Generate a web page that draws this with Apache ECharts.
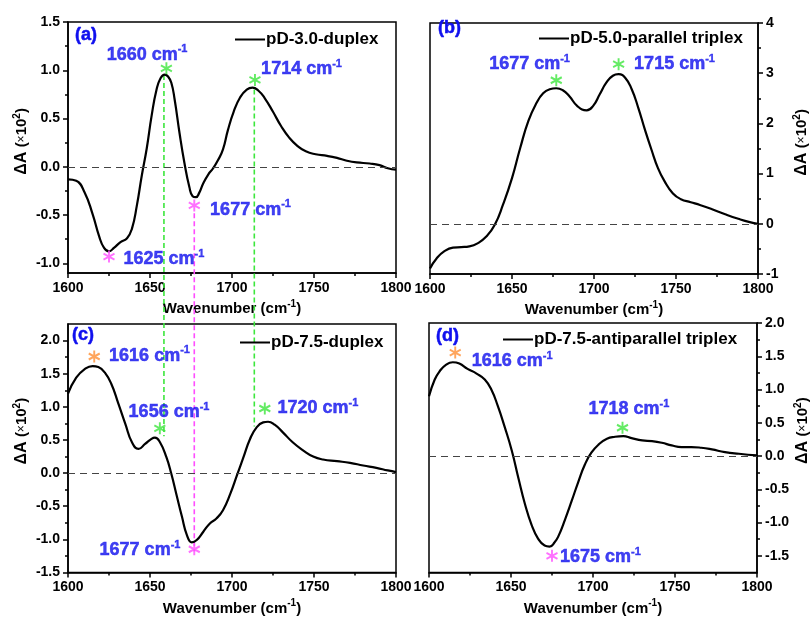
<!DOCTYPE html>
<html>
<head>
<meta charset="utf-8">
<script src="https://cdn.jsdelivr.net/npm/echarts@6/dist/echarts.min.js"></script>
<style>
  html, body { margin: 0; padding: 0; background: #fff; }
  #chart { width: 812px; height: 617px; }
</style>
</head>
<body>
<div id="chart"></div>
<script>
// ---------- spectra: [wavenumber (cm-1), ΔA (x10^2)] ----------
const spectrumA = [
  [1600,-0.13],[1605,-0.145],[1610,-0.26],[1615,-0.49],[1619,-0.72],[1622,-0.84],[1625,-0.875],
  [1628,-0.84],[1632,-0.78],[1636,-0.74],[1639,-0.64],[1642,-0.40],[1645,-0.09],
  [1648,0.19],[1651,0.53],[1654,0.80],[1656.5,0.92],[1659,0.955],[1661,0.935],[1663,0.87],[1665,0.70],
  [1668,0.35],[1671,0.04],[1674,-0.21],[1676,-0.305],[1678,-0.315],[1680,-0.27],[1682.5,-0.17],
  [1685.5,-0.08],[1688.5,-0.015],[1691.5,0.07],[1694.5,0.18],[1697.5,0.38],[1701,0.57],
  [1705,0.72],[1709,0.80],[1712.5,0.82],[1716,0.79],[1720,0.71],[1725,0.57],[1730,0.42],
  [1735,0.30],[1740,0.215],[1745,0.16],[1751,0.13],[1758,0.113],[1764,0.092],[1770,0.063],
  [1776,0.045],[1784,0.034],[1790,0.017],[1795,-0.015],[1800,-0.03]
];
const spectrumB = [
  [1600,-0.89],[1604,-0.69],[1609,-0.54],[1614,-0.475],[1619,-0.465],[1624,-0.45],
  [1629,-0.39],[1634.5,-0.25],[1639.5,-0.02],[1644.5,0.38],[1650,0.91],[1655,1.51],
  [1660,2.05],[1665,2.41],[1669,2.60],[1673,2.68],[1677,2.70],[1681,2.66],[1685,2.54],
  [1690,2.34],[1695.5,2.26],[1699.5,2.35],[1703.5,2.58],[1707.5,2.81],[1711.5,2.95],
  [1715,2.98],[1719,2.91],[1723,2.68],[1727,2.31],[1731,1.88],[1735,1.48],[1739,1.11],
  [1743,0.85],[1748,0.61],[1753,0.49],[1759,0.43],[1765,0.37],[1772,0.29],[1780,0.19],
  [1788,0.10],[1795,0.033],[1800,0.0]
];
const spectrumC = [
  [1600,1.20],[1605,1.44],[1610,1.565],[1615,1.615],[1618.5,1.60],[1622.5,1.515],
  [1626.5,1.34],[1630.5,1.065],[1635,0.74],[1639,0.465],[1643,0.365],[1647,0.44],
  [1650.5,0.51],[1653,0.535],[1656,0.47],[1660,0.24],[1663,-0.01],[1666,-0.31],
  [1669.5,-0.66],[1672.5,-0.935],[1675.5,-1.045],[1678.5,-1.01],[1682.5,-0.885],
  [1686.5,-0.76],[1690.5,-0.685],[1694.5,-0.56],[1699,-0.31],[1703,-0.035],[1707,0.24],
  [1711,0.515],[1715,0.69],[1719,0.765],[1722,0.775],[1726,0.73],[1731,0.615],
  [1737,0.465],[1743.5,0.34],[1749.5,0.25],[1755.5,0.205],[1764,0.18],[1772,0.155],
  [1780,0.115],[1788,0.08],[1795,0.04],[1800,0.015]
];
const spectrumD = [
  [1600,0.90],[1603.5,1.15],[1606.5,1.275],[1610.5,1.375],[1614.5,1.41],[1618.5,1.39],
  [1623.5,1.31],[1629,1.24],[1634,1.15],[1638,1.0],[1642,0.75],[1646,0.45],[1650.5,0.08],
  [1654.5,-0.33],[1658.5,-0.72],[1662.5,-1.03],[1666.5,-1.24],[1670.5,-1.345],
  [1673.5,-1.36],[1676.5,-1.30],[1679,-1.20],[1683,-0.95],[1687,-0.675],[1691,-0.39],
  [1695,-0.13],[1699,0.05],[1703.5,0.175],[1708.5,0.26],[1713.5,0.29],[1718.5,0.30],
  [1723.5,0.27],[1730,0.235],[1736,0.225],[1742,0.20],[1748,0.16],[1754,0.135],
  [1760,0.135],[1766,0.125],[1772.5,0.10],[1780.5,0.06],[1789,0.035],[1800,0.01]
];

const seriesNames = ['pD-3.0-duplex', 'pD-5.0-parallel triplex', 'pD-7.5-duplex', 'pD-7.5-antiparallel triplex'];
const panelLetters = ['(a)', '(b)', '(c)', '(d)'];

// ---------- marked bands: [wavenumber, star level, tone, label x, label y] ----------
const peaksA = [[1660, 1.02, 'green', 1648.2, 1.16], [1714, 0.90, 'green', 1742.4, 1.01],
                [1677, -0.40, 'magenta', 1711.3, -0.445], [1625, -0.93, 'magenta', 1658.5, -0.96]];
const peaksB = [[1677, 2.86, 'green', 1660.7, 3.18], [1715, 3.18, 'green', 1749.1, 3.18]];
const peaksC = [[1616, 1.76, 'orange', 1649.7, 1.77], [1656, 0.675, 'green', 1661.6, 0.915],
                [1720, 0.975, 'green', 1752.4, 0.975], [1677, -1.15, 'magenta', 1643.9, -1.165]];
const peaksD = [[1616, 1.555, 'orange', 1650.7, 1.425], [1718, 0.425, 'green', 1721.9, 0.70],
                [1675, -1.50, 'magenta', 1704.5, -1.52]];

// guides running from panel (a) down into panel (c): [wavenumber, top level in (a), bottom level in (c), tone]
const guideLines = [[1658.5, 0.95, 0.555, 'green'], [1713.6, 0.80, 0.705, 'green'], [1677, -0.48, -1.18, 'magenta']];

// ---------- axis ticks ----------
const xTicks = [1600, 1650, 1700, 1750, 1800];
const yTicksA = [-1.0, -0.5, 0, 0.5, 1.0, 1.5];
const yMinorA = [-1.0, -0.75, -0.5, -0.25, 0, 0.25, 0.5, 0.75, 1.0, 1.25, 1.5];
const yTicksB = [-1, 0, 1, 2, 3, 4];
const yMinorB = [-1, -0.5, 0, 0.5, 1, 1.5, 2, 2.5, 3, 3.5, 4];
const yTicksC = [-1.5, -1.0, -0.5, 0, 0.5, 1.0, 1.5, 2.0];
const yMinorC = [-1.5, -1.25, -1.0, -0.75, -0.5, -0.25, 0, 0.25, 0.5, 0.75, 1.0, 1.25, 1.5, 1.75, 2.0];
const yTicksD = [-1.5, -1.0, -0.5, 0, 0.5, 1.0, 1.5, 2.0];
const yMinorD = [-1.5, -1.25, -1.0, -0.75, -0.5, -0.25, 0, 0.25, 0.5, 0.75, 1.0, 1.25, 1.5, 1.75, 2.0];
const yRangeA = [-1.1, 1.5];
const yRangeB = [-1, 4];
const yRangeC = [-1.5, 2.25];
const yRangeD = [-1.75, 2.0];

// ---------- styling ----------
const FONT = "'Liberation Sans', Arial, Helvetica, sans-serif";
const BLUE = '#1010ee';
const TONES = { green: '#3de63d', magenta: '#ff4dff', orange: '#ff8f33' };
const ASTERISK = 'path://M5,0L5,10M0.67,2.5L9.33,7.5M0.67,7.5L9.33,2.5';

const spectra = [spectrumA, spectrumB, spectrumC, spectrumD];
const peaks = [peaksA, peaksB, peaksC, peaksD];
const yTicks = [yTicksA, yTicksB, yTicksC, yTicksD];
const yMinor = [yMinorA, yMinorB, yMinorC, yMinorD];
const yRanges = [yRangeA, yRangeB, yRangeC, yRangeD];
const yDecimals = [1, 0, 1, 1];
const ySide = ['left', 'right', 'left', 'right'];
const yNameLift = [12, 12, 34, 34];   // nudges each axis title along the axis

const grids = [
  { left: 68, top: 22, width: 328, height: 251 },
  { left: 430, top: 23, width: 328, height: 251 },
  { left: 68, top: 324, width: 328, height: 251 },
  { left: 429, top: 323, width: 328, height: 251 }
];
const letterPos = [[75, 26], [438, 19], [72, 326], [436, 327]];
const legendPos = [[235, 31], [539, 30], [240, 334], [503, 331]];

const black = '#000';
const axisLineStyle = { color: black, width: 1.5 };
const tickFont = { fontFamily: FONT, fontWeight: 'bold', fontSize: 14, color: black };

const xAxes = grids.map((g, i) => ({
  gridIndex: i, type: 'value', min: xTicks[0], max: xTicks[xTicks.length - 1], interval: 50,
  axisLine: { show: true, onZero: false, lineStyle: axisLineStyle },
  axisTick: { show: true, inside: false, length: 5, lineStyle: axisLineStyle },
  minorTick: { show: true, splitNumber: 2, length: 3, lineStyle: axisLineStyle },
  splitLine: { show: false },
  axisLabel: Object.assign({
    margin: 8, showMinLabel: true, showMaxLabel: true,
    formatter: v => String(v)
  }, tickFont),
  name: '{t|Wavenumber (cm}{s|-1}{t|)}',
  nameLocation: 'middle', nameGap: 26,
  nameTextStyle: {
    rich: {
      t: { fontFamily: FONT, fontWeight: 'bold', fontSize: 15, color: black, lineHeight: 20 },
      s: { fontFamily: FONT, fontWeight: 'bold', fontSize: 10, color: black, lineHeight: 8, verticalAlign: 'top' }
    }
  }
}));

const yName = '{t|ΔA }{p|(}{x|×}{p|10}{s|2}{p|)}';
const yNameRich = {
  t: { fontFamily: FONT, fontWeight: 'bold', fontSize: 16, color: black, lineHeight: 20 },
  p: { fontFamily: FONT, fontWeight: 'bold', fontSize: 15, color: black, lineHeight: 20 },
  x: { fontFamily: FONT, fontWeight: 'normal', fontSize: 12, color: black, lineHeight: 20 },
  s: { fontFamily: FONT, fontWeight: 'bold', fontSize: 10, color: black, lineHeight: 8, verticalAlign: 'top' }
};

const mainY = grids.map((g, i) => ({
  gridIndex: i, type: 'value', position: ySide[i], min: yRanges[i][0], max: yRanges[i][1],
  axisLine: { show: true, onZero: false, lineStyle: axisLineStyle },
  axisTick: { show: true, inside: false, length: 5, lineStyle: axisLineStyle, customValues: yTicks[i] },
  splitLine: { show: false },
  axisLabel: Object.assign({
    margin: 8, customValues: yTicks[i],
    formatter: v => Number(v).toFixed(yDecimals[i])
  }, tickFont),
  name: yName, nameLocation: 'middle', nameRotate: 90,
  nameGap: ySide[i] === 'left' ? 36 : 34,
  nameTextStyle: { rich: yNameRich, padding: [0, 0, 0, yNameLift[i]] }
}));
const minorY = grids.map((g, i) => ({
  gridIndex: i, type: 'value', position: ySide[i], min: yRanges[i][0], max: yRanges[i][1],
  axisLine: { show: false },
  axisTick: { show: true, inside: false, length: 3, lineStyle: axisLineStyle, customValues: yMinor[i] },
  axisLabel: { show: false }, splitLine: { show: false }
}));

const labelRich = {
  n: { fontFamily: FONT, fontWeight: 'bold', fontSize: 18, color: BLUE, lineHeight: 22,
       textBorderColor: BLUE, textBorderWidth: 0.5 },
  s: { fontFamily: FONT, fontWeight: 'bold', fontSize: 11, color: BLUE, lineHeight: 8, verticalAlign: 'top',
       textBorderColor: BLUE, textBorderWidth: 0.4 }
};

const series = [];
spectra.forEach((spec, i) => {
  series.push({
    name: seriesNames[i], type: 'line', xAxisIndex: i, yAxisIndex: i,
    data: spec, smooth: 0.5, symbol: 'none', z: 4,
    lineStyle: { color: black, width: 2.2 }, itemStyle: { color: black },
    markLine: {
      silent: true, symbol: 'none', label: { show: false },
      lineStyle: { color: '#444', type: [7, 5], width: 1 },
      data: [{ yAxis: 0 }]
    }
  });
  series.push({
    name: 'stars' + i, type: 'scatter', xAxisIndex: i, yAxisIndex: i, z: 6,
    symbol: ASTERISK, symbolSize: [11, 12], silent: true,
    data: peaks[i].map(p => ({
      value: [p[0], p[1]],
      itemStyle: { color: TONES[p[2]], borderColor: TONES[p[2]], borderWidth: 2 }
    }))
  });
  series.push({
    name: 'bands' + i, type: 'scatter', xAxisIndex: i, yAxisIndex: i, z: 6,
    symbolSize: 1, itemStyle: { color: 'rgba(0,0,0,0)' }, silent: true,
    data: peaks[i].map(p => ({ value: [p[3], p[4]], band: p[0] })),
    label: {
      show: true, position: 'inside',
      formatter: prm => '{n|' + prm.data.band + ' cm}{s|-1}',
      rich: labelRich
    }
  });
});

const chart = echarts.init(document.getElementById('chart'), null, { renderer: 'canvas' });
chart.setOption({
  animation: false,
  backgroundColor: '#fff',
  grid: grids.map(g => Object.assign({ show: true, borderColor: black, borderWidth: 1.5, containLabel: false }, g)),
  title: panelLetters.map((t, i) => ({
    text: t, left: letterPos[i][0], top: letterPos[i][1], padding: 0,
    textStyle: { fontFamily: FONT, fontWeight: 'bold', fontSize: 18, color: BLUE,
                 textBorderColor: BLUE, textBorderWidth: 0.5 }
  })),
  legend: seriesNames.map((n, i) => ({
    data: [n], left: legendPos[i][0], top: legendPos[i][1], padding: 0,
    icon: 'rect', itemWidth: 30, itemHeight: 2, itemGap: 0, selectedMode: false,
    textStyle: { fontFamily: FONT, fontWeight: 'bold', fontSize: 17, color: black, padding: [0, 0, 0, -4] }
  })),
  xAxis: xAxes,
  yAxis: mainY.concat(minorY),
  series: series
});

// dashed guides connecting bands in (a) with (c)
const toA = (x, y) => chart.convertToPixel({ xAxisIndex: 0, yAxisIndex: 0 }, [x, y]);
const toC = (x, y) => chart.convertToPixel({ xAxisIndex: 2, yAxisIndex: 2 }, [x, y]);
chart.setOption({
  graphic: guideLines.map(g => {
    const a = toA(g[0], g[1]);
    const c = toC(g[0], g[2]);
    return {
      type: 'line', silent: true, z: 1,
      shape: { x1: a[0], y1: a[1], x2: c[0], y2: c[1] },
      style: { stroke: TONES[g[3]], lineWidth: 1.6, lineDash: [5, 3] }
    };
  })
});
</script>
</body>
</html>
